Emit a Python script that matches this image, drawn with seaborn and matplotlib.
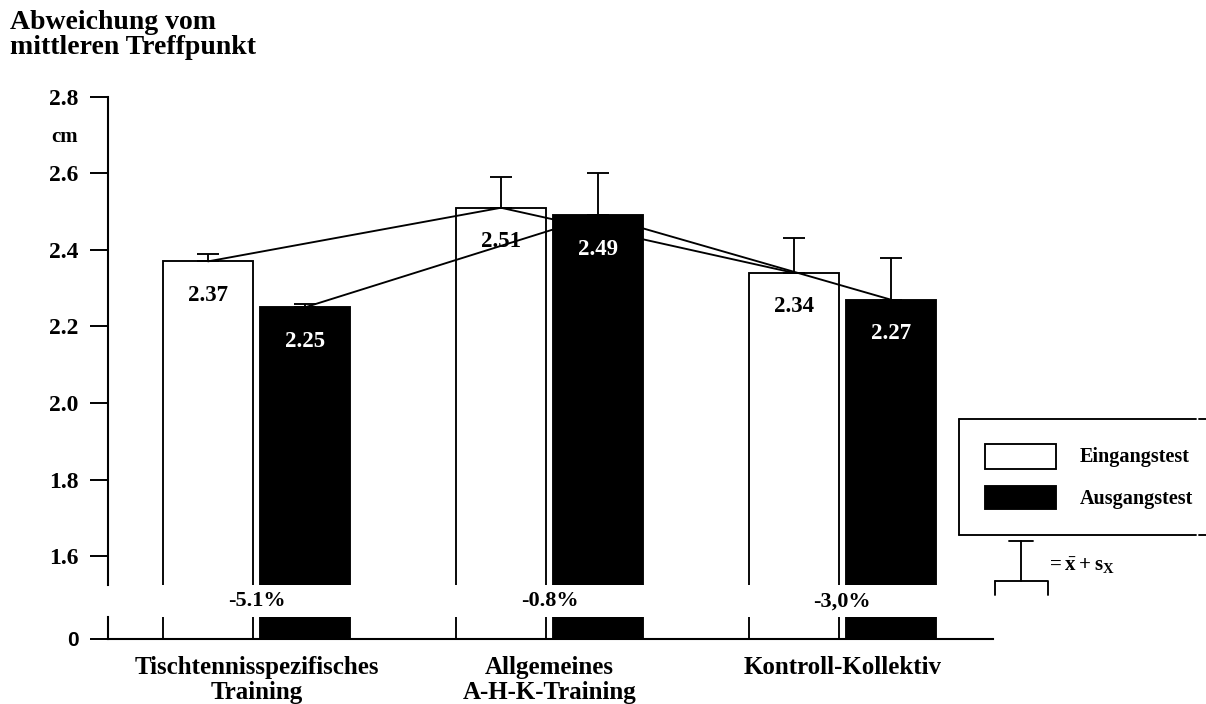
import pandas as pd
import seaborn as sns
import matplotlib.pyplot as plt
from matplotlib.lines import Line2D
from matplotlib.patches import Rectangle

# DATA
groups = ["Tischtennisspezifisches\nTraining", "Allgemeines\nA-H-K-Training", "Kontroll-Kollektiv"]
tests = ["Eingangstest", "Ausgangstest"]
eingang = [2.37, 2.51, 2.34]
ausgang = [2.25, 2.49, 2.27]
eingang_sd = [0.02, 0.08, 0.09]
ausgang_sd = [0.01, 0.11, 0.11]
changes = ["-5.1%", "-0.8%", "-3,0%"]
yticks = [1.6, 1.8, 2.0, 2.2, 2.4, 2.6, 2.8]

df = pd.DataFrame({
    "group": groups * 2,
    "test": [tests[0]] * 3 + [tests[1]] * 3,
    "value": eingang + ausgang,
})
sds = [eingang_sd, ausgang_sd]

sns.set_style("ticks", {"axes.edgecolor": "black", "xtick.color": "black",
                        "ytick.color": "black", "text.color": "black"})
plt.rcParams["font.family"] = ["Liberation Serif", "DejaVu Serif"]
plt.rcParams["font.weight"] = "bold"
plt.rcParams["mathtext.fontset"] = "custom"
plt.rcParams["mathtext.rm"] = "Liberation Serif:bold"
plt.rcParams["mathtext.it"] = "Liberation Serif:bold"
plt.rcParams["mathtext.bf"] = "Liberation Serif:bold"

W, H = 1206, 704
fig = plt.figure(figsize=(W / 100, H / 100), dpi=100)


def fx(x):
    return x / W


def fy(y):
    return 1 - y / H


LW = 1.35

# broken axis: upper part 1.525..2.8, lower part just above 0
ax_top = fig.add_axes([fx(108), fy(585), fx(993) - fx(108), fy(96.7) - fy(585)])
ax_bot = fig.add_axes([fx(108), fy(639), fx(993) - fx(108), fy(617) - fy(639)])

for ax in (ax_top, ax_bot):
    sns.barplot(data=df, x="group", y="value", hue="test", palette=["white", "black"],
                edgecolor="black", linewidth=LW, width=0.662, gap=0.0725,
                errorbar=None, legend=False, ax=ax)
    ax.set_xlim(-0.507, 2.514)
    ax.set_xlabel("")
    ax.set_ylabel("")
    for c, cont in enumerate(ax.containers):
        for bar in cont:
            bar.set_zorder(1 if c == 0 else 3)

ax_top.set_ylim(1.525, 2.8)
ax_bot.set_ylim(0, 22 / 383)

# connecting lines, error bars and value labels
bar_conts = list(ax_top.containers[:2])
for c, cont in enumerate(bar_conts):
    xs = [b.get_x() + b.get_width() / 2 for b in cont]
    hs = [b.get_height() for b in cont]
    ax_top.plot(xs, hs, color="black", lw=LW, zorder=2)
    ax_top.errorbar(xs, hs, yerr=[[0] * 3, sds[c]], fmt="none", ecolor="black",
                    elinewidth=LW, capsize=8, capthick=LW, zorder=4)
    for x, h in zip(xs, hs):
        ax_top.annotate(f"{h:.2f}", (x, h), xytext=(0, -24.5), textcoords="offset points",
                        ha="center", va="center", fontsize=16.5, fontweight="bold",
                        color="black" if c == 0 else "white", zorder=5)

# spines / ticks
ax_top.spines[["top", "right", "bottom"]].set_visible(False)
ax_bot.spines[["top", "right"]].set_visible(False)
for ax in (ax_top, ax_bot):
    ax.spines["left"].set_linewidth(1.5)
    ax.spines["bottom"].set_linewidth(1.5)
    ax.tick_params(axis="y", length=13, width=1.4, pad=8)

ax_top.set_yticks(yticks)
ax_top.set_yticklabels([f"{t:.1f}" for t in yticks], fontsize=17, fontweight="bold")
ax_top.tick_params(axis="x", length=0, labelbottom=False)
ax_top.annotate("cm", xy=(0, 2.695), xycoords=("axes fraction", "data"),
                xytext=(-22, 0), textcoords="offset points", ha="right", va="center",
                fontsize=15, fontweight="bold")

ax_bot.set_yticks([0])
ax_bot.set_yticklabels(["0"], fontsize=15, fontweight="bold", family="Liberation Sans")
ax_bot.tick_params(axis="x", length=0, pad=12)
for lab in ax_bot.get_xticklabels():
    lab.set_fontsize(18)
    lab.set_fontweight("bold")
    lab.set_linespacing(1.15)

# percentage changes in the axis gap
for i, txt in enumerate(changes):
    ax_bot.text(i, 1.72, txt, transform=ax_bot.get_xaxis_transform(), ha="center",
                va="center", fontsize=16, fontweight="bold")

# title
fig.text(fx(10), fy(10), "Abweichung vom\nmittleren Treffpunkt", ha="left", va="top",
         fontsize=20, fontweight="bold", linespacing=1.0)

# legend box drawn by hand (open on the right side)
lk = dict(color="black", lw=LW, transform=fig.transFigure)
fig.add_artist(Line2D([fx(959), fx(1196)], [fy(419), fy(419)], **lk))
fig.add_artist(Line2D([fx(959), fx(1196)], [fy(535), fy(535)], **lk))
fig.add_artist(Line2D([fx(959), fx(959)], [fy(419), fy(535)], **lk))
fig.add_artist(Line2D([fx(1199), fx(1206)], [fy(419), fy(419)], **lk))
fig.add_artist(Line2D([fx(1199), fx(1206)], [fy(535), fy(535)], **lk))
fig.add_artist(Rectangle((fx(985), fy(469)), fx(71), fy(0) - fy(25), facecolor="white",
                         edgecolor="black", lw=LW, transform=fig.transFigure))
fig.add_artist(Rectangle((fx(985), fy(509)), fx(71), fy(0) - fy(23), facecolor="black",
                         edgecolor="black", lw=LW, transform=fig.transFigure))
fig.text(fx(1080), fy(457), tests[0], ha="left", va="center", fontsize=14.5, fontweight="bold")
fig.text(fx(1080), fy(499), tests[1], ha="left", va="center", fontsize=14.5, fontweight="bold")

# error bar key
fig.add_artist(Line2D([fx(1021.5), fx(1021.5)], [fy(541), fy(581)], **lk))
fig.add_artist(Line2D([fx(1009), fx(1033)], [fy(541), fy(541)], **lk))
fig.add_artist(Line2D([fx(995), fx(1048), fx(1048)], [fy(581), fy(581), fy(595)], **lk))
fig.add_artist(Line2D([fx(995), fx(995)], [fy(581), fy(595)], **lk))
fig.text(fx(1046), fy(566), r"$=\bar{x}+s_X$", ha="left", va="center", fontsize=15)

plt.savefig("out.png", dpi=100)
